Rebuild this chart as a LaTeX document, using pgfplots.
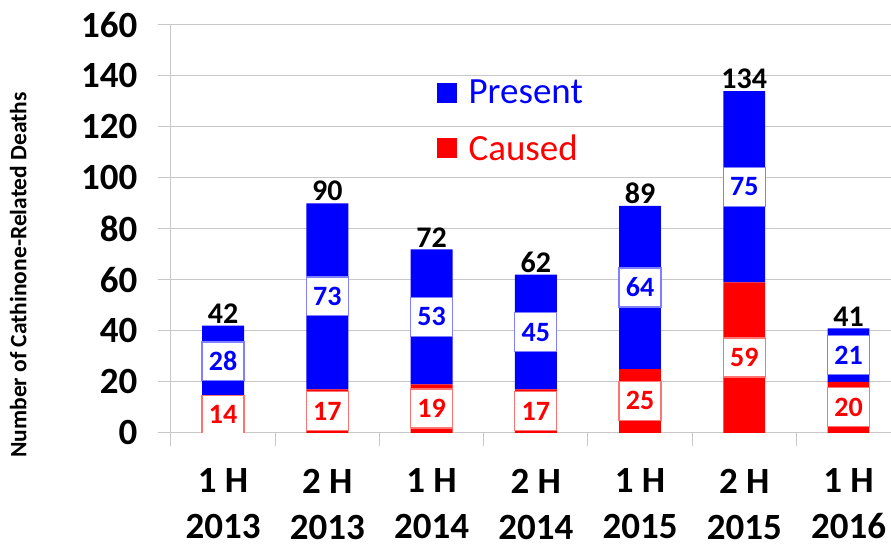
\documentclass[border=0pt]{standalone}
\usepackage{pgfplots}
\pgfplotsset{compat=1.18}
\usepackage{pgfplotstable}
\usepackage{fontspec}
\setmainfont{Carlito}

\definecolor{gridgray}{RGB}{200,200,200}
\definecolor{pblue}{RGB}{0,0,255}
\definecolor{cred}{RGB}{255,0,0}

% half-year deaths: caused (bottom), present (top)
\pgfplotstableread{
x caused present
0 14 28
1 17 73
2 19 53
3 17 45
4 25 64
5 59 75
6 20 21
}\deaths

\newcommand{\tickfont}{\bfseries\fontsize{37}{46}\selectfont}
\newcommand{\valfont}{\bfseries\fontsize{28}{28}\selectfont}
\newcommand{\totfont}{\bfseries\fontsize{30}{30}\selectfont}

\tikzset{cbox/.style={fill=white, draw=cred!55, line width=1.2pt, text=cred, font=\valfont,
    minimum width=42pt, minimum height=39pt, inner sep=0pt},
  pbox/.style={fill=white, draw=pblue!50, line width=1.2pt, text=pblue, font=\valfont,
    minimum width=42pt, minimum height=39pt, inner sep=0pt},
  tot/.style={anchor=south, font=\totfont, inner sep=2pt}}

\begin{document}
\begin{tikzpicture}
\begin{axis}[
  set layers,
  scale only axis,
  width=720pt, height=408pt,
  xmin=-0.5, xmax=6.403,
  ymin=0, ymax=160,
  ybar stacked, bar width=42pt,
  axis x line*=bottom, axis y line*=left,
  axis line style={gridgray, line width=1pt},
  ymajorgrids, grid style={gridgray, line width=1pt},
  tick align=outside,
  major tick length=13pt,
  tick style={gridgray, line width=1pt},
  ytick={0,20,...,160},
  xtick={-0.5,0.5,...,5.5},
  xticklabels={},
  extra x ticks={0,1,2,3,4,5,6},
  extra x tick labels={{1 H\\2013},{2 H\\2013},{1 H\\2014},{2 H\\2014},{1 H\\2015},{2 H\\2015},{1 H\\2016}},
  extra x tick style={major tick length=0pt, xmajorgrids=false},
  xticklabel style={font=\tickfont, align=center, inner ysep=0pt, yshift=-36pt},
  yticklabel style={font=\tickfont, xshift=-17pt},
  /pgf/number format/assume math mode=true,
  ylabel={Number of Cathinone-Related Deaths},
  ylabel style={font=\bfseries\fontsize{23.5}{23.5}\selectfont, at={(axis description cs:-0.212,0.387)}, anchor=center},
  reverse legend,
  legend style={at={(rel axis cs:0.369,0.87)}, anchor=north west, draw=none, fill=none,
    font=\fontsize{37}{37}\selectfont, row sep=25pt, inner sep=0pt,
    /tikz/every odd column/.append style={column sep=10pt}},
  legend cell align=left,
  legend image code/.code={\fill[#1] (0pt,-10pt) rectangle (20pt,10pt);},
]
\addplot[on layer=pre main, fill=cred, draw=none] table[x=x, y=caused] {\deaths};
\addplot[on layer=pre main, fill=pblue, draw=none] table[x=x, y=present] {\deaths};
\legend{\color{cred}Caused, \color{pblue}Present}

% labels inside the segments
\node[cbox] at (axis cs:0,7) {14};
\node[cbox] at (axis cs:1,8.5) {17};
\node[cbox] at (axis cs:2,9.5) {19};
\node[cbox] at (axis cs:3,8.5) {17};
\node[cbox] at (axis cs:4,12.5) {25};
\node[cbox] at (axis cs:5,29.5) {59};
\node[cbox] at (axis cs:6,10) {20};
\node[pbox] at (axis cs:0,28) {28};
\node[pbox] at (axis cs:1,53.5) {73};
\node[pbox] at (axis cs:2,45.5) {53};
\node[pbox] at (axis cs:3,39.5) {45};
\node[pbox] at (axis cs:4,57) {64};
\node[pbox] at (axis cs:5,96.5) {75};
\node[pbox] at (axis cs:6,30.5) {21};
% totals
\node[tot] at (axis cs:0,42) {42};
\node[tot] at (axis cs:1,90) {90};
\node[tot] at (axis cs:2,72) {72};
\node[tot] at (axis cs:3,62) {62};
\node[tot] at (axis cs:4,89) {89};
\node[tot] at (axis cs:5,134) {134};
\node[tot] at (axis cs:6,41) {41};
\end{axis}
\path[use as bounding box] (-171pt,-112pt) rectangle (720pt,433pt);
\end{tikzpicture}
\end{document}
